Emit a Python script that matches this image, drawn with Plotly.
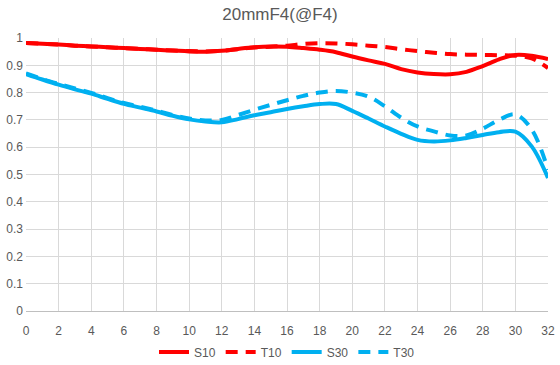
import plotly.graph_objects as go

x_vals = list(range(0, 33))

s10 = [0.982, 0.979, 0.976, 0.972, 0.969, 0.966, 0.963, 0.960, 0.957, 0.954, 0.951,
       0.950, 0.953, 0.960, 0.966, 0.969, 0.968, 0.963, 0.957, 0.948, 0.932,
       0.918, 0.905, 0.886, 0.874, 0.868, 0.867, 0.876, 0.897, 0.922, 0.938,
       0.935, 0.923]
t10 = [0.982, 0.979, 0.976, 0.972, 0.969, 0.966, 0.963, 0.960, 0.957, 0.954, 0.952,
       0.951, 0.953, 0.959, 0.965, 0.968, 0.972, 0.978, 0.981, 0.980, 0.977,
       0.972, 0.967, 0.959, 0.952, 0.946, 0.941, 0.939, 0.938, 0.937, 0.935,
       0.925, 0.890]
s30 = [0.868, 0.848, 0.829, 0.812, 0.796, 0.777, 0.759, 0.745, 0.731, 0.715, 0.702,
       0.694, 0.691, 0.703, 0.717, 0.728, 0.740, 0.750, 0.758, 0.758, 0.733,
       0.705, 0.676, 0.649, 0.627, 0.621, 0.625, 0.634, 0.645, 0.655, 0.657,
       0.603, 0.487]
t30 = [0.870, 0.850, 0.832, 0.815, 0.799, 0.780, 0.762, 0.748, 0.734, 0.718, 0.705,
       0.698, 0.700, 0.718, 0.737, 0.755, 0.772, 0.788, 0.800, 0.806, 0.800,
       0.785, 0.750, 0.708, 0.676, 0.658, 0.643, 0.643, 0.668, 0.700, 0.720,
       0.665, 0.517]

series_names = ["S10", "T10", "S30", "T30"]
series_vals = [s10, t10, s30, t30]
colors = ["#ff0000", "#ff0000", "#00b0f0", "#00b0f0"]
dashes = ["solid", "dash", "solid", "dash"]

y_ticks = [i / 10 for i in range(0, 11)]
y_tick_text = ["0", "0.1", "0.2", "0.3", "0.4", "0.5", "0.6", "0.7", "0.8", "0.9", "1"]
x_ticks = list(range(0, 33, 2))

fig = go.Figure()
for name, vals, c, d in zip(series_names, series_vals, colors, dashes):
    fig.add_trace(go.Scatter(
        x=x_vals, y=vals, name=name, mode="lines",
        line=dict(color=c, width=4, dash="12px,8px" if d == "dash" else "solid",
                  shape="spline", smoothing=1.0),
    ))

font_fam = "Liberation Sans Narrow, Liberation Sans, Arial, sans-serif"
fig.update_layout(
    width=560, height=365,
    margin=dict(l=26, r=12, t=38, b=54, autoexpand=False),
    paper_bgcolor="white", plot_bgcolor="white",
    title=dict(text="20mmF4(@F4)", x=0.5, xanchor="center", y=0.962, yanchor="middle",
               font=dict(family=font_fam, size=17, color="#595959")),
    font=dict(family=font_fam, size=12, color="#595959"),
    showlegend=True,
    legend=dict(orientation="h", x=0.5, xanchor="center", y=-0.15, yanchor="middle",
                font=dict(size=12, color="#595959"), itemwidth=30,
                tracegroupgap=0),
    xaxis=dict(range=[0, 32], tickvals=x_ticks, showgrid=True, gridcolor="#d9d9d9",
               gridwidth=1, showline=True, linecolor="#bfbfbf", linewidth=1,
               zeroline=False, ticks="", fixedrange=True, automargin=False,
               ticklabelstandoff=9),
    yaxis=dict(range=[0, 1], tickvals=y_ticks, ticktext=y_tick_text, showgrid=True,
               gridcolor="#d9d9d9", gridwidth=1, showline=False, zeroline=False,
               ticks="", fixedrange=True, automargin=False, ticklabelstandoff=2),
)

fig.write_html("out.html", config={"displayModeBar": False},
               post_script="document.body.style.margin='0';document.body.style.padding='0';")
